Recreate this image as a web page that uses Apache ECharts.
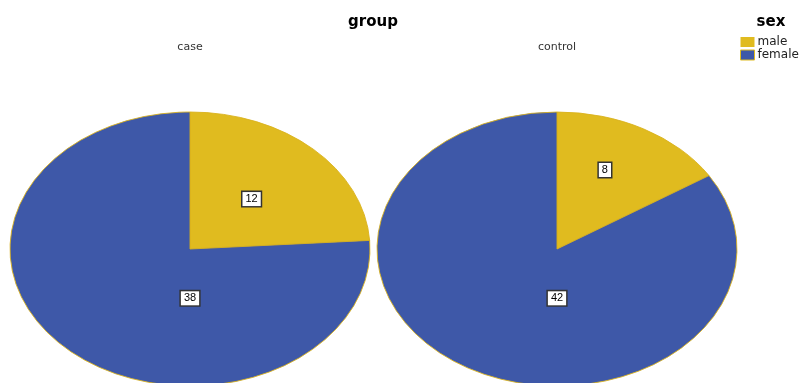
<!DOCTYPE html>
<html>
<head>
<meta charset="utf-8">
<script src="https://cdn.jsdelivr.net/npm/echarts@6/dist/echarts.min.js"></script>
<style>
  html, body { margin: 0; padding: 0; background: #fff; }
  #chart { width: 803px; height: 383px; }
</style>
</head>
<body>
<div id="chart"></div>
<script>
// data
const groups = ['case', 'control'];
const sexes = ['male', 'female'];
const male = [12, 8];
const female = [38, 42];
const colors = ['#E0BB1F', '#3E58A8'];

// pie layout (px)
const centers = [[190, 249], [557, 249]];
const rx = 180;
const ry = 137;

const chart = echarts.init(document.getElementById('chart'));

function sliceItem(sexIdx) {
  return function (params, api) {
    const g = params.dataIndex;
    const total = male[g] + female[g];
    const before = sexIdx === 0 ? 0 : male[g];
    const val = api.value(0);
    const a0 = -Math.PI / 2 + (before / total) * Math.PI * 2;
    const a1 = a0 + (val / total) * Math.PI * 2;
    const cx = centers[g][0];
    const cy = centers[g][1];
    // label position: small slice on its mid angle, big slice at the bottom
    let la, k;
    if (val / total > 0.5) {
      la = Math.PI / 2;
      k = 0.36;
    } else if (val / total < 0.2) {
      la = (a0 + a1) / 2 - 0.07;
      k = 0.635;
    } else {
      la = (a0 + a1) / 2;
      k = 0.5;
    }
    const lx = cx + Math.cos(la) * rx * k;
    const ly = cy + Math.sin(la) * ry * k;
    return {
      type: 'group',
      children: [
        {
          type: 'sector',
          shape: { cx: cx, cy: cy, r: rx, r0: 0, startAngle: a0, endAngle: a1, clockwise: true },
          scaleY: ry / rx,
          originX: cx,
          originY: cy,
          style: { fill: colors[sexIdx], stroke: '#D9B21C', lineWidth: 1 }
        },
        {
          type: 'text',
          x: lx,
          y: ly,
          z2: 10,
          style: {
            text: String(val),
            align: 'center',
            verticalAlign: 'middle',
            fontSize: 11,
            fontFamily: 'Liberation Sans',
            fill: '#000',
            backgroundColor: '#fff',
            borderColor: '#333',
            borderWidth: 1.5,
            padding: [2, 3, 1, 3]
          }
        }
      ]
    };
  };
}

const option = {
  animation: false,
  title: [
    { text: 'group', left: 373, top: 15, textAlign: 'center', padding: 0,
      textStyle: { fontSize: 15, fontWeight: 'bold', fontFamily: 'DejaVu Sans', color: '#000' } },
    { text: 'sex', left: 771, top: 15, textAlign: 'center', padding: 0,
      textStyle: { fontSize: 15, fontWeight: 'bold', fontFamily: 'DejaVu Sans', color: '#000' } },
    { text: groups[0], left: centers[0][0], top: 42, textAlign: 'center', padding: 0,
      textStyle: { fontSize: 11, fontWeight: 'normal', fontFamily: 'DejaVu Sans', color: '#333' } },
    { text: groups[1], left: centers[1][0], top: 42, textAlign: 'center', padding: 0,
      textStyle: { fontSize: 11, fontWeight: 'normal', fontFamily: 'DejaVu Sans', color: '#333' } }
  ],
  legend: {
    orient: 'vertical',
    left: 740,
    top: 36,
    padding: 0,
    itemWidth: 14,
    itemHeight: 10,
    itemGap: 1,
    icon: 'rect',
    selectedMode: false,
    textStyle: { fontSize: 12, fontFamily: 'DejaVu Sans', color: '#222', padding: [0, 0, 0, -2] },
    data: [
      { name: sexes[0], itemStyle: { color: colors[0], borderWidth: 0 } },
      { name: sexes[1], itemStyle: { color: colors[1], borderColor: colors[0], borderWidth: 1 } }
    ]
  },
  series: [
    {
      name: sexes[0],
      type: 'custom',
      coordinateSystem: 'none',
      itemStyle: { color: colors[0] },
      renderItem: sliceItem(0),
      data: male.map(v => [v])
    },
    {
      name: sexes[1],
      type: 'custom',
      coordinateSystem: 'none',
      itemStyle: { color: colors[1] },
      renderItem: sliceItem(1),
      data: female.map(v => [v])
    }
  ]
};

chart.setOption(option);
</script>
</body>
</html>
